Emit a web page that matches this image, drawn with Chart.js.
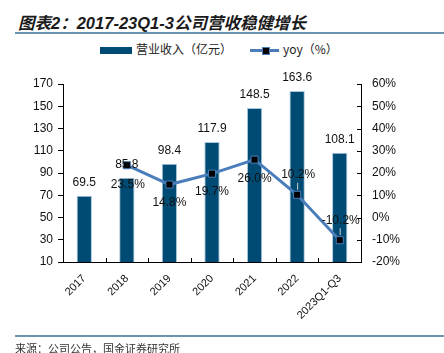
<!DOCTYPE html>
<html lang="zh">
<head>
<meta charset="UTF-8">
<title>营收稳健增长</title>
<script src="https://cdn.jsdelivr.net/npm/chart.js"></script>
<style>
  html, body { margin: 0; padding: 0; background: #fff; }
  #wrap { position: relative; width: 444px; height: 353px; overflow: hidden; font-family: "Liberation Sans", "Noto Sans CJK SC", sans-serif; }
  #title { position: absolute; left: 18px; top: 10px; font: italic bold 16.5px "Liberation Sans", "Noto Sans CJK SC", sans-serif; color: #1a1a1a; white-space: nowrap; }
  .rule { position: absolute; left: 15px; right: 0; height: 2px; background: #6b94b0; }
  #legend { position: absolute; top: 42px; left: 0; font-size: 12px; color: #222; font-family: "Noto Sans CJK SC", sans-serif; }
  #source { position: absolute; left: 15px; top: 340px; font-size: 11px; color: #333; font-family: "Noto Sans CJK SC", sans-serif; white-space: nowrap; }
  canvas { position: absolute; left: 0; top: 0; }
</style>
</head>
<body>
<div id="wrap">
  <div id="title">图表2：2017-23Q1-3公司营收稳健增长</div>
  <div class="rule" style="top:32px"></div>
  <div id="legend">
    <span style="position:absolute;left:100px;top:5px;width:32px;height:7px;background:#004b74"></span>
    <span style="position:absolute;left:136px;top:-2px;white-space:nowrap">营业收入（亿元）</span>
    <span style="position:absolute;left:250px;top:7px;width:29px;height:3px;background:#4a7ebb"></span>
    <span style="position:absolute;left:262px;top:5px;width:6px;height:6px;background:#000;border:1px solid #4a7ebb"></span>
    <span style="position:absolute;left:283px;top:-2px;white-space:nowrap">yoy（%）</span>
  </div>
  <canvas id="c" width="444" height="353"></canvas>
  <div class="rule" style="top:335px"></div>
  <div id="source">来源：公司公告，国金证券研究所</div>
</div>
<script>
const categories = ['2017', '2018', '2019', '2020', '2021', '2022', '2023Q1-Q3'];
const revenue = [69.5, 85.8, 98.4, 117.9, 148.5, 163.6, 108.1];
const yoy = [null, 23.5, 14.8, 19.7, 26.0, 10.2, -10.2];
const leftTicks = [10, 30, 50, 70, 90, 110, 130, 150, 170];
const rightTicks = [-20, -10, 0, 10, 20, 30, 40, 50, 60];

// label offsets for yoy (dx, dy) and whether a leader line is drawn
const yoyLabelPos = [null, [1, 19, false], [0, 18, false], [0, 18, false], [0, 19, false], [1, -20, true], [1, -20, true]];

const labelPlugin = {
  id: 'labels',
  afterDatasetsDraw(chart) {
    const ctx = chart.ctx;
    ctx.save();
    ctx.font = '12px "Liberation Sans", Arial, sans-serif';
    ctx.fillStyle = '#111';
    ctx.textAlign = 'center';
    ctx.textBaseline = 'middle';
    chart.getDatasetMeta(0).data.forEach((bar, i) => {
      ctx.fillText(revenue[i].toFixed(1), bar.x, bar.y - 13);
    });
    chart.getDatasetMeta(1).data.forEach((pt, i) => {
      const p = yoyLabelPos[i];
      if (!p || yoy[i] === null) return;
      if (p[2]) {
        ctx.strokeStyle = '#d0d0d0';
        ctx.lineWidth = 1;
        ctx.beginPath();
        ctx.moveTo(pt.x + 0.5, pt.y + p[1] + 8);
        ctx.lineTo(pt.x + 0.5, pt.y - 5);
        ctx.stroke();
      }
      ctx.fillText(yoy[i].toFixed(1) + '%', pt.x + p[0], pt.y + p[1]);
    });
    ctx.restore();
  },
  afterDraw(chart) {
    // small inward ticks on the x axis and right axis
    const ctx = chart.ctx, x = chart.scales.x, r = chart.scales.y1;
    ctx.save();
    ctx.strokeStyle = '#000';
    ctx.lineWidth = 1;
    ctx.beginPath();
    for (let i = 0; i < categories.length - 1; i++) {
      const px = Math.round((x.getPixelForValue(i) + x.getPixelForValue(i + 1)) / 2) + 0.5;
      ctx.moveTo(px, x.top);
      ctx.lineTo(px, x.top - 4);
    }
    rightTicks.forEach(v => {
      const py = Math.round(r.getPixelForValue(v)) + 0.5;
      ctx.moveTo(r.left, py);
      ctx.lineTo(r.left - 4, py);
    });
    ctx.stroke();
    ctx.restore();
  }
};

new Chart(document.getElementById('c'), {
  data: {
    labels: categories,
    datasets: [
      {
        type: 'bar',
        label: '营业收入（亿元）',
        data: revenue,
        yAxisID: 'y',
        backgroundColor: '#004b74',
        borderColor: '#a9c7df',
        borderWidth: 1,
        categoryPercentage: 1,
        barPercentage: 0.36,
        order: 1
      },
      {
        type: 'line',
        label: 'yoy（%）',
        data: yoy,
        yAxisID: 'y1',
        borderColor: '#4a7ebb',
        borderWidth: 3,
        pointStyle: 'rect',
        pointRadius: 5,
        pointBackgroundColor: '#000',
        pointBorderColor: '#4a7ebb',
        pointBorderWidth: 1,
        tension: 0,
        order: 0
      }
    ]
  },
  options: {
    responsive: false,
    animation: false,
    layout: { padding: { top: 84, left: 0, right: 0, bottom: 0 } },
    plugins: { legend: { display: false }, tooltip: { enabled: false } },
    scales: {
      x: {
        offset: true,
        grid: { display: false, drawTicks: false },
        border: { color: '#000', width: 1 },
        ticks: { color: '#111', font: { size: 11, family: '"Liberation Sans", Arial' }, maxRotation: 45, minRotation: 45, padding: 10, autoSkip: false },
        afterFit: s => { s.height = 91; }
      },
      y: {
        position: 'left',
        min: 10, max: 170,
        afterBuildTicks: s => { s.ticks = leftTicks.map(v => ({ value: v })); },
        grid: { drawOnChartArea: false, drawTicks: true, tickLength: 5, color: '#000' },
        border: { color: '#000', width: 1 },
        ticks: { color: '#111', font: { size: 12, family: '"Liberation Sans", Arial' }, padding: 5 },
        afterFit: s => { s.width = 63; }
      },
      y1: {
        position: 'right',
        min: -20, max: 60,
        afterBuildTicks: s => { s.ticks = rightTicks.map(v => ({ value: v })); },
        grid: { drawOnChartArea: false, drawTicks: false },
        border: { color: '#000', width: 1 },
        ticks: { color: '#111', font: { size: 12, family: '"Liberation Sans", Arial' }, padding: 11, callback: v => v + '%' },
        afterFit: s => { s.width = 83; }
      }
    }
  },
  plugins: [labelPlugin]
});
</script>
</body>
</html>
